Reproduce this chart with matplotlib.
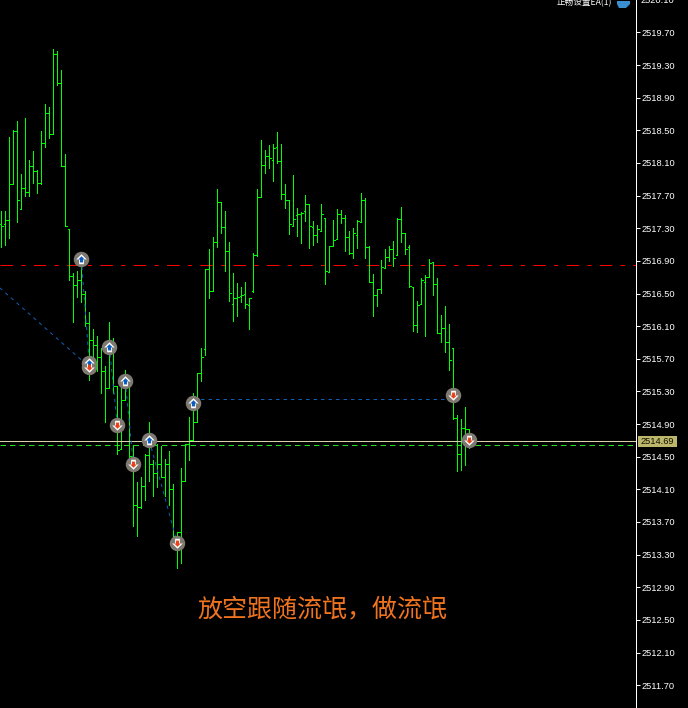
import matplotlib
matplotlib.use("Agg")
import matplotlib.pyplot as plt
import numpy as np
from matplotlib.ticker import FormatStrFormatter

plt.rcParams['font.family'] = ['Noto Sans CJK SC', 'DejaVu Sans']

opens = [2517.35,2517.35,2517.40,2517.84,2518.49,2517.54,2517.79,2517.75,2518.06,2518.00,
2517.85,2518.34,2518.71,2518.45,2519.43,2519.08,2518.06,2517.29,2516.71,2516.60,
2516.66,2516.49,2516.14,2515.93,2515.87,2515.72,2515.55,2515.34,2515.78,2515.37,
2514.60,2515.19,2515.43,2514.51,2513.91,2513.88,2514.14,2514.52,2514.41,2514.30,
2514.41,2514.25,2514.41,2514.11,2513.48,2513.58,2514.20,2514.66,2514.70,2514.93,
2515.52,2515.82,2516.80,2516.53,2517.13,2517.62,2517.31,2517.02,2516.37,2516.45,
2516.47,2516.50,2516.36,2516.53,2516.97,2517.68,2518.08,2518.19,2518.14,2518.29,
2518.13,2517.72,2517.65,2517.33,2517.46,2517.48,2517.51,2517.60,2517.32,2517.22,
2517.27,2517.43,2516.76,2517.08,2517.17,2517.47,2517.43,2517.19,2517.00,2517.22,
2517.38,2517.64,2517.07,2516.64,2516.48,2516.55,2516.81,2516.95,2517.05,2516.97,
2517.41,2517.24,2517.07,2516.58,2516.11,2516.37,2516.64,2516.70,2516.89,2516.62,
2516.02,2516.08,2515.90,2515.83,2514.98,2514.53,2514.85,2514.84]
highs = [2517.51,2517.51,2518.42,2518.50,2518.61,2517.97,2518.65,2518.14,2518.25,2518.01,
2518.49,2518.82,2518.79,2519.50,2519.47,2519.24,2518.21,2517.29,2516.75,2516.77,
2516.92,2516.53,2516.27,2516.06,2515.98,2515.83,2515.61,2516.15,2515.96,2515.37,
2515.37,2515.56,2515.43,2514.64,2514.19,2514.25,2514.53,2514.93,2514.46,2514.66,
2514.63,2514.47,2514.57,2514.16,2513.58,2514.36,2514.66,2514.99,2515.28,2515.52,
2515.83,2516.80,2517.04,2517.19,2517.78,2517.62,2517.51,2517.13,2516.75,2516.63,
2516.58,2516.64,2516.45,2517.00,2517.78,2518.38,2518.26,2518.32,2518.33,2518.48,
2518.33,2517.84,2517.65,2517.95,2517.55,2517.50,2517.71,2517.60,2517.39,2517.34,
2517.60,2517.43,2517.08,2517.40,2517.54,2517.52,2517.46,2517.27,2517.30,2517.40,
2517.73,2517.67,2517.08,2516.74,2516.55,2516.91,2517.04,2517.08,2517.14,2517.43,
2517.56,2517.24,2517.09,2516.58,2516.41,2516.69,2516.73,2516.92,2516.89,2516.69,
2516.24,2516.35,2516.13,2515.83,2515.01,2514.96,2515.11,2514.84]
lows = [2517.07,2517.10,2517.18,2517.84,2517.38,2517.54,2517.70,2517.69,2517.86,2517.73,
2517.84,2518.29,2518.40,2518.45,2519.06,2518.06,2517.33,2516.66,2516.15,2516.46,
2516.39,2516.10,2515.44,2515.72,2515.55,2515.28,2514.93,2515.34,2515.28,2514.53,
2514.60,2515.19,2514.50,2513.65,2513.53,2513.87,2513.97,2514.20,2514.02,2514.13,
2514.25,2514.02,2513.91,2513.52,2513.14,2513.20,2514.20,2514.46,2514.70,2514.93,
2515.43,2515.75,2516.44,2516.53,2517.07,2517.24,2516.77,2516.41,2516.16,2516.22,
2516.40,2516.32,2516.06,2516.52,2516.96,2517.68,2517.98,2518.04,2517.88,2518.10,
2517.66,2517.55,2517.23,2517.33,2517.20,2517.12,2517.39,2517.06,2517.10,2517.13,
2517.27,2516.62,2516.76,2517.08,2517.17,2517.36,2517.02,2516.99,2516.94,2517.06,
2517.38,2516.93,2516.64,2516.22,2516.35,2516.51,2516.81,2516.90,2516.84,2516.97,
2517.13,2516.99,2516.58,2516.04,2516.03,2516.37,2515.98,2516.70,2516.48,2516.02,
2515.91,2515.78,2515.56,2514.96,2514.32,2514.34,2514.40,2514.61]
closes = [2517.33,2517.40,2517.84,2518.49,2517.64,2517.79,2517.75,2518.06,2518.00,2517.85,
2518.34,2518.71,2518.46,2519.43,2519.08,2518.06,2517.33,2516.71,2516.60,2516.67,
2516.49,2516.14,2515.93,2515.87,2515.72,2515.55,2515.34,2515.78,2515.37,2514.58,
2515.19,2515.43,2514.51,2513.91,2513.88,2514.14,2514.52,2514.41,2514.30,2514.41,
2514.25,2514.41,2514.11,2513.53,2513.58,2514.20,2514.66,2514.70,2514.93,2515.52,
2515.72,2516.80,2516.53,2517.13,2517.62,2517.32,2517.02,2516.51,2516.45,2516.46,
2516.48,2516.37,2516.45,2516.97,2517.68,2518.08,2518.19,2518.16,2518.28,2518.13,
2517.72,2517.65,2517.35,2517.41,2517.48,2517.49,2517.60,2517.33,2517.22,2517.29,
2517.47,2516.77,2517.08,2517.15,2517.47,2517.43,2517.19,2517.00,2517.24,2517.39,
2517.65,2517.07,2516.64,2516.48,2516.55,2516.82,2516.95,2517.05,2516.94,2517.41,
2517.24,2517.05,2516.59,2516.11,2516.36,2516.67,2516.70,2516.88,2516.62,2516.02,
2516.08,2515.90,2515.68,2514.98,2514.53,2514.85,2514.84,2514.69]

buy_idx = [20, 22, 27, 31, 37, 48]
buy_price = [2516.92, 2515.65, 2515.85, 2515.43, 2514.70, 2515.16]
sell_idx = [22, 29, 33, 44, 113, 117]
sell_price = [2515.60, 2514.89, 2514.41, 2513.44, 2515.26, 2514.70]
trade_x0 = [-0.4, 20, 27, 31, 37, 48]
trade_y0 = [2516.57, 2516.92, 2515.85, 2515.43, 2514.70, 2515.21]
trade_x1 = [22, 22, 29, 33, 44, 113]
trade_y1 = [2515.60, 2515.65, 2514.89, 2514.41, 2513.44, 2515.21]

bid_price = 2514.69
ask_price = 2514.64
level_price = 2516.845
tick_labels = [2520.10 - 0.4 * k for k in range(22)]
caption = "放空跟随流氓，做流氓"
ea_name = "正畅设置EA(1)"

W, H = 688, 708
PX = 72 / 100
BG = '#000000'
GREEN = '#00FF00'
TOP = 2520.097
fig = plt.figure(figsize=(W / 100, H / 100), dpi=100, facecolor=BG)
ax = fig.add_axes([0, 0, 635.5 / W, 1], facecolor=BG)
ax.set_xlim(-0.325, 158.55)
ax.set_ylim(TOP - H / 81.6, TOP)

x = np.arange(len(opens))
ax.vlines(x, lows, highs, color=GREEN, lw=PX, antialiased=False, zorder=3)
ax.hlines(opens, x - 0.3, x, color=GREEN, lw=PX, antialiased=False, zorder=3)
ax.hlines(closes, x, x + 0.3, color=GREEN, lw=PX, antialiased=False, zorder=3)

ax.axhline(level_price, color='#FF0000', lw=PX, dashes=(12.5, 8.3, 4.2, 8.3), zorder=2)
ax.axhline(bid_price, color='#D8D2AC', lw=PX, zorder=4)
ax.axhline(ask_price, color='#22DD22', lw=PX, dashes=(5.5, 4), zorder=2)

for a, b, c, d in zip(trade_x0, trade_y0, trade_x1, trade_y1):
    ax.plot([a, c], [b, d], color='#0F5FB5', lw=PX, dashes=(3.5, 4), zorder=5)

up = [(-1, 0), (0, 1), (1, 0), (0.45, 0), (0.45, -0.9), (-0.45, -0.9), (-0.45, 0)]
down = [(a, -b) for a, b in up]
def icons(xs, ys, verts, color):
    for xx, yy in zip(xs, ys):
        ax.plot(xx, yy, 'o', ms=15.5 * PX, mfc='#7E7A72', mec='none', zorder=6)
        ax.plot(xx, yy, marker=verts, ms=10.5 * PX, mfc='white', mec='none', zorder=7)
        ax.plot(xx, yy, marker=verts, ms=6.5 * PX, mfc=color, mec='none', zorder=8)
icons(buy_idx, buy_price, up, '#0A5CC0')
icons(sell_idx, sell_price, down, '#E8401A')

ax.yaxis.tick_right()
ax.set_yticks(tick_labels[1:])
ax.yaxis.set_major_formatter(FormatStrFormatter('%.2f'))
ax.tick_params(axis='y', colors='white', length=4 * PX, width=PX, pad=1.5,
               labelsize=6.7, labelfontfamily='Liberation Sans')
ax.set_xticks([])
for s in ('top', 'bottom', 'left'):
    ax.spines[s].set_visible(False)
ax.spines['right'].set_color('white')
ax.spines['right'].set_linewidth(PX)

fig.text(641 / W, 1 - 0.5 / H, '%.2f' % tick_labels[0], color='white', fontsize=6.7,
         family='Liberation Sans', va='center', ha='left')
fig.patches.append(plt.Rectangle((638 / W, 1 - 447 / H), 39 / W, 11 / H, transform=fig.transFigure,
                                 fc='#BDB76B', ec='none', zorder=9))
fig.text(640.5 / W, 1 - 441.5 / H, '%.2f' % bid_price, color='#101000', fontsize=6.7,
         family='Liberation Sans', va='center', ha='left', zorder=10)

ax.text(322 / 635.5, 1 - 609 / H, caption, transform=ax.transAxes, color='#F07420', fontsize=18,
        ha='center', va='center', zorder=9)
fig.text(612 / W, 1 - 3 / H, ea_name, color='white', fontsize=6.2, ha='right', va='center',
         family=['Noto Sans CJK SC', 'DejaVu Sans'])
fig.patches.append(plt.Polygon([(617 / W, 1 - 1 / H), (630 / W, 1 - 1 / H), (630 / W, 1 - 4 / H),
                                (626 / W, 1 - 8 / H), (619 / W, 1 - 8 / H), (617 / W, 1 - 4 / H)],
                               closed=True, transform=fig.transFigure, fc='#3A8FD0', ec='none'))
fig.savefig('out.png', dpi=100, facecolor=BG)
